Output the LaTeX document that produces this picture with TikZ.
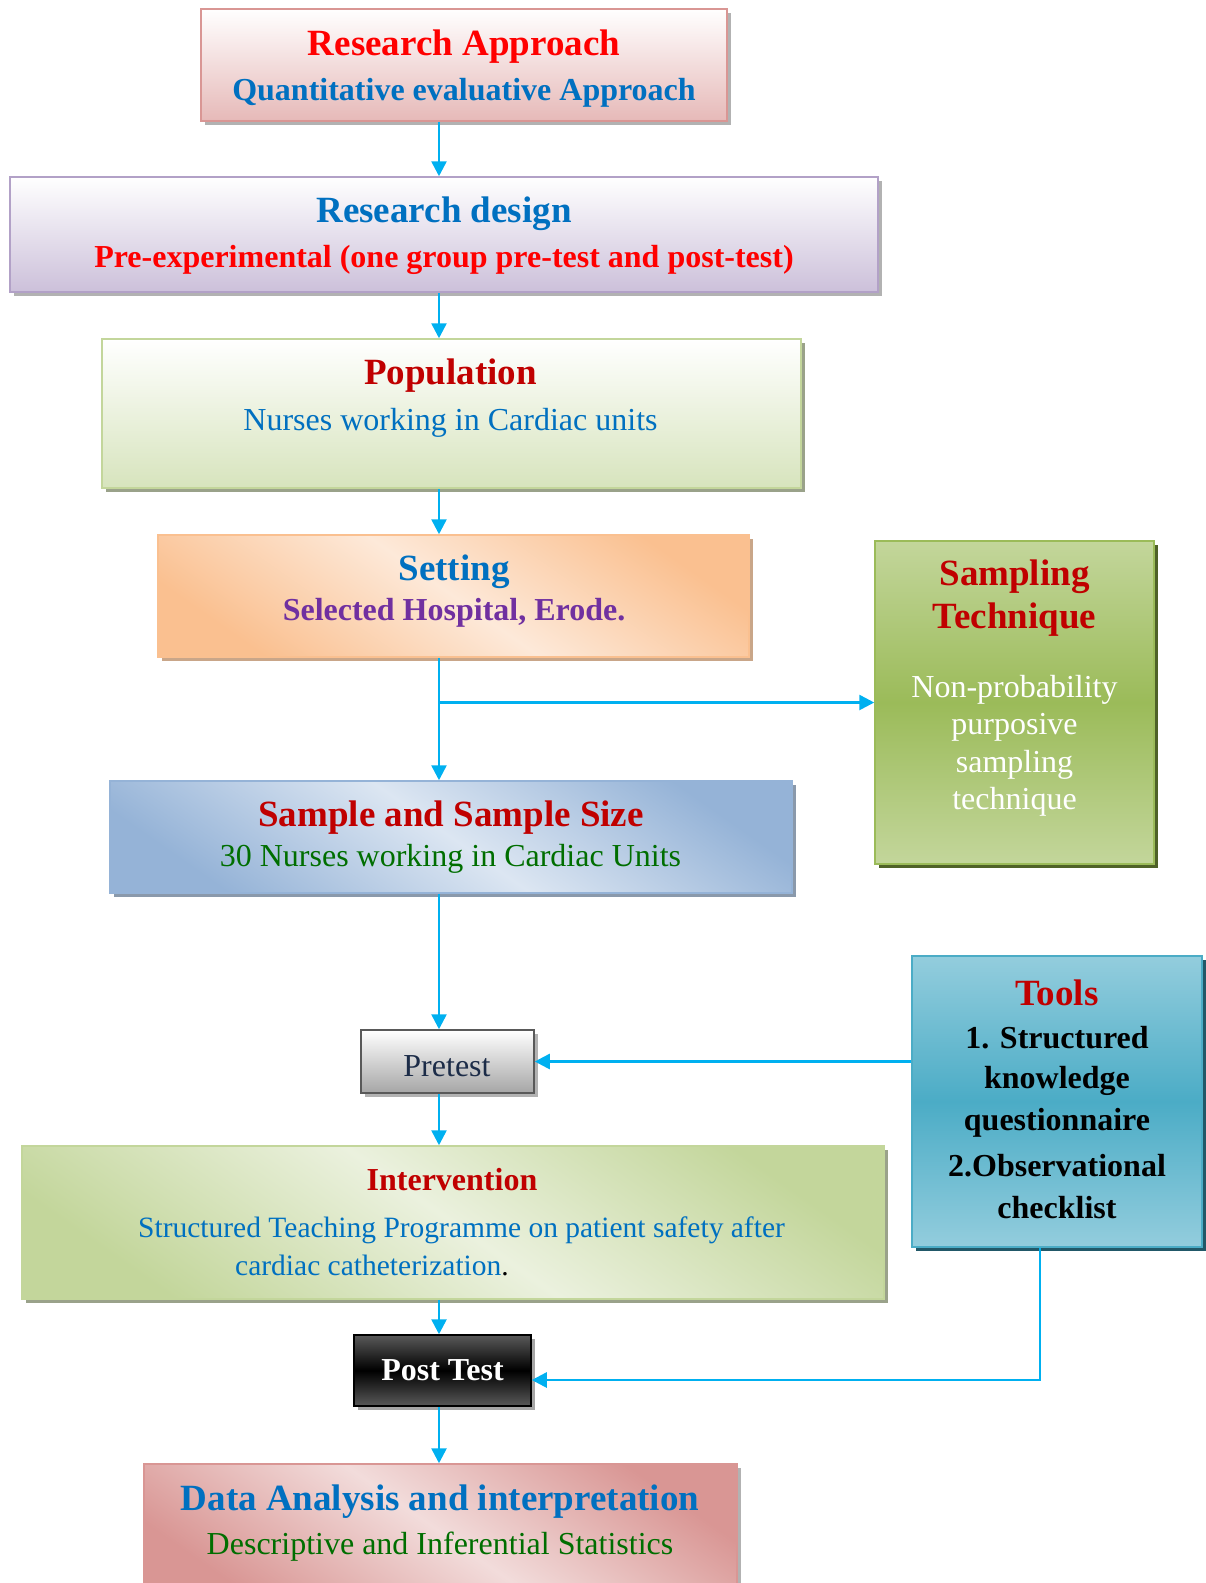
\documentclass[tikz,border=0pt]{standalone}
\usepackage{fontspec}
\setmainfont{Liberation Serif}
\usetikzlibrary{arrows.meta,shadows}
\definecolor{flowcyan}{HTML}{00B0F0}
\definecolor{hdred}{HTML}{C00000}
\definecolor{hdblue}{HTML}{0070C0}
\definecolor{hdpurple}{HTML}{7030A0}
\definecolor{hdgreen}{HTML}{006E00}
\definecolor{navytxt}{HTML}{1C2C48}
\definecolor{pinkA}{HTML}{D99694}
\definecolor{pinkB}{HTML}{E6B9B8}
\definecolor{pinkC}{HTML}{F2DCDB}
\definecolor{lilacA}{HTML}{B2A1C7}
\definecolor{lilacB}{HTML}{CCC0DA}
\definecolor{limeA}{HTML}{C3D69B}
\definecolor{limeB}{HTML}{D7E4BD}
\definecolor{limeC}{HTML}{EBF1DE}
\definecolor{oliveA}{HTML}{9BBB59}
\definecolor{oliveD}{HTML}{4F6228}
\definecolor{peachA}{HTML}{FAC090}
\definecolor{peachB}{HTML}{FDE9D9}
\definecolor{skyA}{HTML}{95B3D7}
\definecolor{skyB}{HTML}{DCE6F2}
\definecolor{tealA}{HTML}{4BACC6}
\definecolor{tealB}{HTML}{93CDDD}
\definecolor{tealD}{HTML}{215868}
\tikzset{
  box/.style={rectangle, line width=1.5pt, inner sep=0pt},
  boxsh/.style={drop shadow={shadow xshift=4pt, shadow yshift=-4pt, opacity=1, fill=#1}},
  band/.style 2 args={top color=#1, bottom color=#1, middle color=#2, shading angle=-35},
  ttl/.style={inner sep=0pt, yshift=-4pt, font=\fontsize{37}{44}\selectfont\bfseries},
  subttl/.style={inner sep=0pt, yshift=-4pt, font=\fontsize{32}{38}\selectfont\bfseries},
  bodytxt/.style={inner sep=0pt, yshift=-4pt, font=\fontsize{32}{38}\selectfont},
  flow/.style={draw=flowcyan, line width=2.6pt, -{Triangle[length=15pt,width=15pt]}}
}
\begin{document}
\begin{tikzpicture}[x=1pt,y=-1pt]
  \useasboundingbox (0,0) rectangle (1206,1583);
  % boxes
  \node[box, draw=pinkA, boxsh=gray!60, top color=white, bottom color=pinkB,
    minimum width=526pt, minimum height=112pt] (ra) at (464,65) {};
  \node[box, draw=lilacA, boxsh=gray!60, top color=white, bottom color=lilacB,
    minimum width=868pt, minimum height=115pt] (rd) at (444,234.5) {};
  \node[box, draw=limeA, boxsh=gray!60!limeA, top color=white, bottom color=limeB,
    minimum width=699pt, minimum height=149pt] (pop) at (451.5,413.5) {};
  \node[box, draw=peachA, boxsh=peachA!60!gray, band={peachA}{peachB},
    minimum width=591pt, minimum height=122pt] (set) at (453.5,596) {};
  \node[box, draw=skyA, boxsh=skyA!50!gray, band={skyA}{skyB},
    minimum width=682pt, minimum height=112pt] (samp) at (451,837) {};
  \node[box, draw=oliveA, boxsh=oliveD, top color=limeA, bottom color=limeA, middle color=oliveA,
    minimum width=279pt, minimum height=323pt] (tech) at (1014.5,702.5) {};
  \node[box, draw=black!65, boxsh=gray!60, top color=white, bottom color=black!35,
    minimum width=173pt, minimum height=63pt] (pre) at (447.5,1061.5) {};
  \node[box, draw=tealA, boxsh=tealD, top color=tealB, bottom color=tealB, middle color=tealA,
    minimum width=290pt, minimum height=291pt] (tools) at (1057,1101.5) {};
  \node[box, draw=limeA, boxsh=gray!60!limeA, band={limeA}{limeC},
    minimum width=862pt, minimum height=153pt] (int) at (453,1222.5) {};
  \node[box, draw=black, boxsh=gray!70, top color=black!65, bottom color=black!65, middle color=black,
    minimum width=177pt, minimum height=71pt] (post) at (442.5,1370.5) {};
  \node[box, draw=pinkA, boxsh=gray!60, band={pinkA}{pinkC},
    minimum width=593pt, minimum height=136pt] (data) at (440.5,1532) {};
  % texts
  \node[ttl, red] (ra-a) at (464,43) {Research Approach};
  \node[subttl, hdblue] (ra-b) at (464,89) {Quantitative evaluative Approach};
  \node[ttl, hdblue] (rd-a) at (444,210) {Research design};
  \node[subttl, red] (rd-b) at (444,256) {Pre-experimental (one group pre-test and post-test)};
  \node[ttl, hdred] (pop-a) at (450.5,372) {Population};
  \node[bodytxt, hdblue] (pop-b) at (450.5,419) {Nurses working in Cardiac units};
  \node[ttl, hdblue] (set-a) at (454,568) {Setting};
  \node[subttl, hdpurple] (set-b) at (454,609) {Selected Hospital, Erode.};
  \node[ttl, hdred] (samp-a) at (451,814) {Sample and Sample Size};
  \node[bodytxt, hdgreen] (samp-b) at (450.5,855) {30 Nurses working in Cardiac Units};
  \node[ttl, hdred] (tech-a) at (1014.5,573) {Sampling};
  \node[ttl, hdred] (tech-b) at (1014.5,616) {Technique};
  \foreach \t [count=\i] in {Non-probability,purposive,sampling,technique}
    \node[bodytxt, white] (tech-\i) at (1014.5,{686+37.3*(\i-1)}) {\t};
  \node[bodytxt, navytxt] (pre-a) at (447,1062) {Pretest};
  \node[ttl, hdred] (tools-a) at (1057,989) {Tools};
  \foreach \t [count=\i] in {1. Structured,knowledge,questionnaire,2.Observational,checklist}
    \node[subttl, black] (tools-\i) at (1057,{1034+42.5*(\i-1)}) {\t};
  \node[subttl, hdred] (int-a) at (452,1176) {Intervention};
  \node[bodytxt, hdblue, font=\fontsize{29.5}{36}\selectfont] (int-b) at (461.5,1226)
    {Structured Teaching Programme on patient safety after};
  \node[bodytxt, anchor=west, font=\fontsize{29.5}{36}\selectfont] (int-c) at (235,1261)
    {\textcolor{hdblue}{cardiac catheterization}.};
  \node[subttl, white] (post-a) at (442.5,1366) {Post Test};
  \node[ttl, hdblue] (data-a) at (440,1498) {Data Analysis and interpretation};
  \node[bodytxt, hdgreen] (data-b) at (440,1543) {Descriptive and Inferential Statistics};
  % connectors
  \coordinate (spine) at (439,0);
  \coordinate (tbend) at (1040,1380);
  \draw[flow] (ra.south -| spine) -- (rd.north -| spine);
  \draw[flow] (rd.south -| spine) -- (pop.north -| spine);
  \draw[flow] (pop.south -| spine) -- (set.north -| spine);
  \draw[flow] (set.south -| spine) -- (samp.north -| spine);
  \draw[flow] (tech.west -| spine) -- (tech.west);
  \draw[flow] (samp.south -| spine) -- (pre.north -| spine);
  \draw[flow] (tools.west |- pre.east) -- (pre.east);
  \draw[flow] (pre.south -| spine) -- (int.north -| spine);
  \draw[flow] (int.south -| spine) -- (post.north -| spine);
  \draw[flow] (tools.south -| tbend) -- (tbend) -- (post.east |- tbend);
  \draw[flow] (post.south -| spine) -- (data.north -| spine);
\end{tikzpicture}
\end{document}
